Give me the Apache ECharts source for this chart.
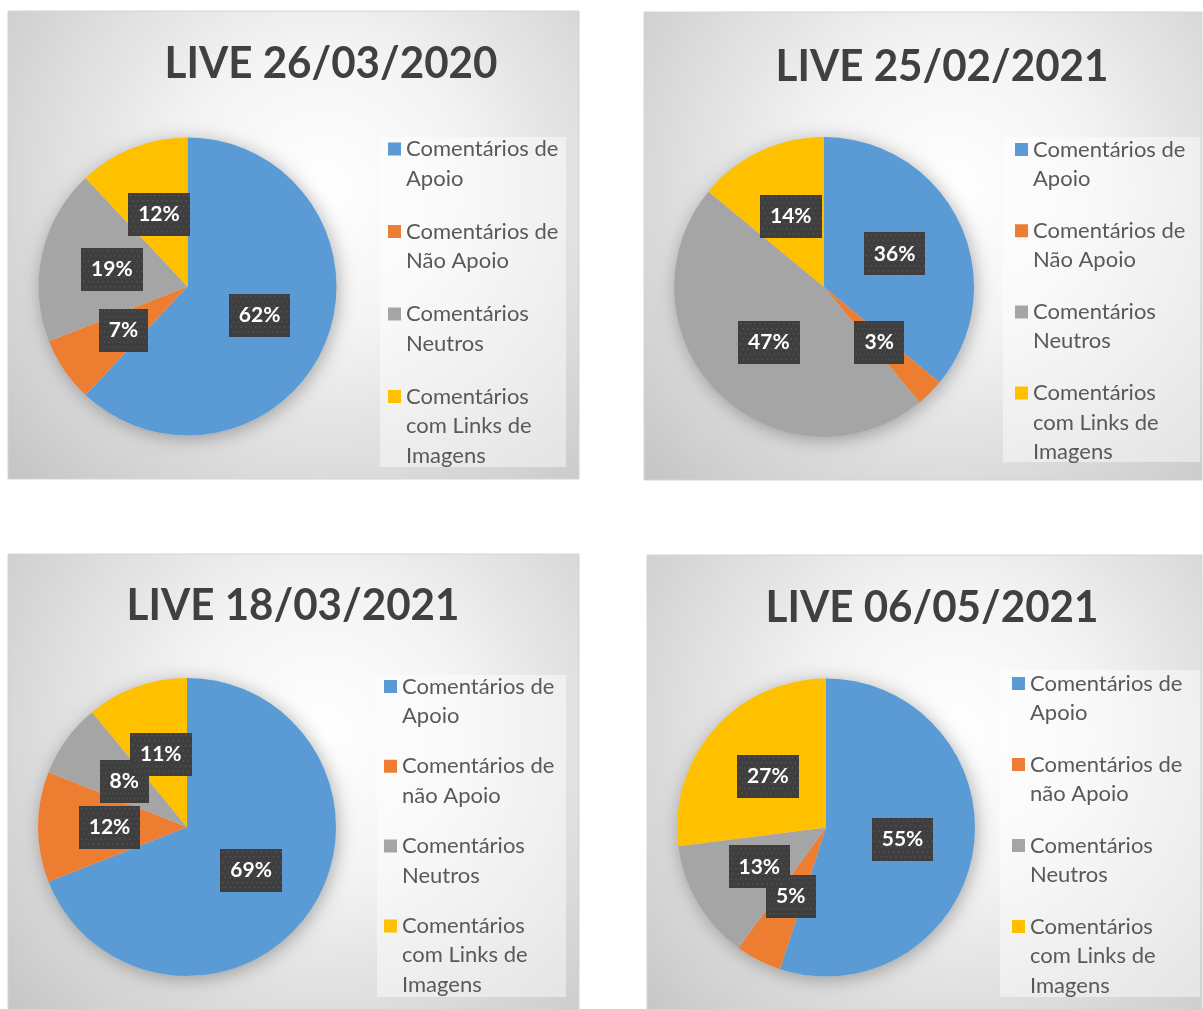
<!DOCTYPE html>
<html>
<head>
<meta charset="utf-8">
<script src="https://cdn.jsdelivr.net/npm/echarts@6/dist/echarts.min.js"></script>
<style>
html,body{margin:0;padding:0;background:#ffffff;}
#chart{width:1203px;height:1009px;}
</style>
</head>
<body>
<div id="chart"></div>
<script>
// ---------- DATA ----------
const categoriesA = ['Comentários de\nApoio', 'Comentários de\nNão Apoio', 'Comentários\nNeutros', 'Comentários\ncom Links de\nImagens'];
const categoriesB = ['Comentários de\nApoio', 'Comentários de\nnão Apoio', 'Comentários\nNeutros', 'Comentários\ncom Links de\nImagens'];
const titles = ['LIVE 26/03/2020', 'LIVE 25/02/2021', 'LIVE 18/03/2021', 'LIVE 06/05/2021'];
const valuesLive20200326 = [62, 7, 19, 12];
const valuesLive20210225 = [36, 3, 47, 14];
const valuesLive20210318 = [69, 12, 8, 11];
const valuesLive20210506 = [55, 5, 13, 27];

// ---------- STYLE / LAYOUT ----------
const sliceColors = ['#5B9BD5', '#ED7D31', '#A5A5A5', '#FFC000'];
const panels = [
  { values: valuesLive20200326, cats: categoriesA, title: titles[0], box: [8, 11, 571, 468], titlePos: [331, 64], center: [187.5, 286.5], r: 149,
    legend: { left: 388, top: 138, gap: 9, lh: 29.5, textGap: 9, box: [380, 137, 186, 330] } },
  { values: valuesLive20210225, cats: categoriesA, title: titles[1], box: [644, 12, 558, 468], titlePos: [942, 67], center: [824, 287], r: 150,
    legend: { left: 1015, top: 138.5, gap: 7.7, lh: 29.5, textGap: 7, box: [1003, 137, 197, 325] } },
  { values: valuesLive20210318, cats: categoriesB, title: titles[2], box: [8, 554, 571, 470], titlePos: [293, 606], center: [187, 827], r: 149,
    legend: { left: 384, top: 675.5, gap: 6.3, lh: 29.5, textGap: 7, box: [377, 675, 189, 322] } },
  { values: valuesLive20210506, cats: categoriesB, title: titles[3], box: [647, 555, 555, 470], titlePos: [932, 608], center: [826, 827.5], r: 149,
    legend: { left: 1012, top: 672.5, gap: 7.5, lh: 29.5, textGap: 7, box: [1000, 670, 200, 327] } }
];

function dotPattern(w, h) {
  const c = document.createElement('canvas');
  c.width = w; c.height = h;
  const g = c.getContext('2d');
  g.fillStyle = '#3e3e3e';
  g.fillRect(0, 0, w, h);
  g.fillStyle = '#575757';
  let row = 0;
  for (let y = 2; y < h; y += 5, row++) {
    for (let x = (row % 2 ? 4.5 : 2); x < w; x += 5) {
      g.fillRect(x, y, 1.5, 1.5);
    }
  }
  return c;
}
const labelBg = dotPattern(64, 42);

const chart = echarts.init(document.getElementById('chart'), null, { renderer: 'canvas' });

const graphics = [];
const series = [];
const legends = [];

panels.forEach((p, i) => {
  const [bx, by, bw, bh] = p.box;
  graphics.push({
    type: 'rect', z: 0, silent: true,
    shape: { x: bx, y: by, width: bw, height: bh },
    style: {
      fill: new echarts.graphic.RadialGradient(0.55, 0.38, 1.0, [
        { offset: 0, color: '#ffffff' },
        { offset: 0.3, color: '#f4f4f4' },
        { offset: 1, color: '#bdbdbd' }
      ]),
      stroke: '#d4d4d4', lineWidth: 1
    }
  });
  graphics.push({
    type: 'text', z: 1, silent: true,
    x: p.titlePos[0], y: p.titlePos[1], scaleX: 0.98,
    style: {
      text: p.title, x: 0, y: 0, align: 'center', verticalAlign: 'middle',
      font: 'bold 43px Lato', fill: '#404040'
    }
  });
  const lb = p.legend.box;
  graphics.push({
    type: 'rect', z: 1, silent: true,
    shape: { x: lb[0], y: lb[1], width: lb[2], height: lb[3] },
    style: { fill: 'rgba(255,255,255,0.45)' }
  });

  // soft halo under pie
  series.push({
    type: 'pie', z: 1, silent: true, animation: false,
    center: p.center, radius: p.r, legendHoverLink: false,
    label: { show: false }, labelLine: { show: false },
    data: [{ value: 1, name: '__halo' + i, itemStyle: { color: '#d9d9d9', shadowBlur: 18, shadowColor: 'rgba(0,0,0,0.3)', shadowOffsetX: 2, shadowOffsetY: 3 } }]
  });

  series.push({
    type: 'pie', z: 2, animation: false,
    center: p.center, radius: p.r,
    startAngle: 90, clockwise: true,
    avoidLabelOverlap: false,
    labelLayout: { hideOverlap: false },
    emphasis: { disabled: true },
    itemStyle: { borderWidth: 0 },
    label: {
      show: true, position: 'inside',
      formatter: (d) => d.value + '%',
      color: '#ffffff', fontFamily: 'Lato', fontWeight: 'bold', fontSize: 21, lineHeight: 24,
      padding: [10, 10, 9, 10],
      backgroundColor: { image: labelBg },
      shadowColor: 'rgba(0,0,0,0.45)', shadowBlur: 5, shadowOffsetX: 3, shadowOffsetY: 3
    },
    labelLine: { show: false },
    data: p.cats.map((name, k) => ({ name: name, value: p.values[k], itemStyle: { color: sliceColors[k] } }))
  });

  const L = p.legend;
  const gapLine = 23.5;
  const iconH = 72, c = iconH / 2;
  const first2 = c - (2 * L.lh + gapLine) / 2 + L.lh / 2;
  const first3 = c - (3 * L.lh) / 2 + L.lh / 2;
  const sq = (y) => 'path://M0,0L0.01,0ZM13,' + iconH + 'L12.99,' + iconH + 'ZM0,' + (y - 6.5) + 'L13,' + (y - 6.5) + 'L13,' + (y + 6.5) + 'L0,' + (y + 6.5) + 'Z';
  legends.push({
    orient: 'vertical', left: L.left, top: L.top,
    padding: 0, itemGap: L.gap, itemWidth: 13, itemHeight: iconH, itemTextGap: L.textGap,
    selectedMode: false,
    data: p.cats.map((name) => ({ name: name, icon: sq(name.split('\n').length === 3 ? first3 : first2) })),
    formatter: (name) => {
      const parts = name.split('\n');
      let s = parts.map(t => '{a|' + t + '}').join('\n');
      if (parts.length === 2) s += '\n{g| }';
      return s;
    },
    textStyle: {
      color: '#595959', fontFamily: 'Lato', fontSize: 22,
      rich: {
        a: { color: '#595959', fontFamily: 'Lato', fontSize: 22, lineHeight: L.lh },
        g: { fontSize: 2, lineHeight: gapLine }
      }
    }
  });
});

chart.setOption({
  animation: false,
  graphic: { elements: graphics },
  legend: legends,
  series: series
});
</script>
</body>
</html>
